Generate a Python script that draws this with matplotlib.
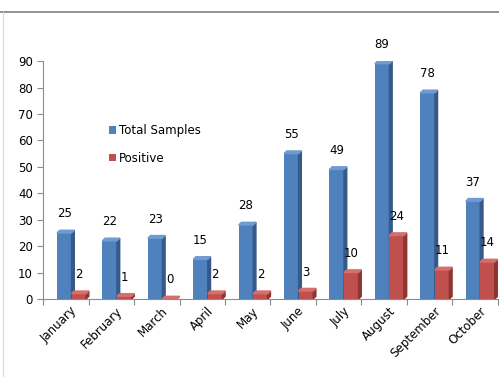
import matplotlib
matplotlib.use("Agg")
import matplotlib.pyplot as plt
from matplotlib.patches import Polygon
from matplotlib.lines import Line2D
import numpy as np

months = ["January", "February", "March", "April", "May", "June",
          "July", "August", "September", "October"]
total_samples = [25, 22, 23, 15, 28, 55, 49, 89, 78, 37]
positive = [2, 1, 0, 2, 2, 3, 10, 24, 11, 14]

blue, blue_dark, blue_top = "#4F81BD", "#35598A", "#6F9BD1"
red, red_dark, red_top = "#C0504D", "#8E3431", "#D46F6C"

fig = plt.figure(figsize=(4.99, 3.77), dpi=100)
ax = fig.add_axes([0.087, 0.207, 0.91, 0.631])

# outer frame lines of the chart area (top and left only visible)
fig.lines.append(Line2D([0.0, 1.0], [0.968, 0.968], transform=fig.transFigure,
                        color="#7f7f7f", lw=1.2))
fig.lines.append(Line2D([0.006, 0.006], [0.0, 0.968], transform=fig.transFigure,
                        color="#d9d9d9", lw=0.8))

x = np.arange(len(months)) + 0.12
w = 0.32
dx, dy = 0.06, 1.0  # depth of the 3D faces


def bar3d(xs, vals, face, side, top, label):
    bars = ax.bar(xs, vals, width=w, color=face, label=label, zorder=3)
    for b in bars:
        x0, x1, h = b.get_x(), b.get_x() + b.get_width(), b.get_height()
        ax.add_patch(Polygon([(x1, 0), (x1 + dx, dy), (x1 + dx, h + dy), (x1, h)],
                             closed=True, color=side, zorder=3))
        ax.add_patch(Polygon([(x0, h), (x0 + dx, h + dy), (x1 + dx, h + dy), (x1, h)],
                             closed=True, color=top, zorder=3))
    for xi, v in zip(xs, vals):
        ax.annotate(str(v), (xi, v), xytext=(0, 9), textcoords="offset points",
                    ha="center", va="bottom", fontsize=8.5, zorder=4)
    return bars


bar3d(x - w / 2, total_samples, blue, blue_dark, blue_top, "Total Samples")
bar3d(x + w / 2, positive, red, red_dark, red_top, "Positive")

ax.set_xlim(-0.5, len(months) - 0.5)
ax.set_ylim(0, 90)
ax.set_yticks(range(0, 91, 10))
ax.set_xticks(np.arange(-0.5, len(months), 1), minor=False)
ax.set_xticks(np.arange(len(months)) + 0.1, minor=True)
ax.set_xticklabels([""] * (len(months) + 1))
ax.set_xticklabels(months, minor=True, rotation=45, ha="right",
                   rotation_mode="anchor", fontsize=8.5)
ax.tick_params(axis="x", which="minor", length=0, pad=4)
ax.tick_params(axis="x", which="major", length=4, color="#8c8c8c")
ax.tick_params(axis="y", labelsize=8.5, length=4, color="#8c8c8c")

for s in ["top", "right"]:
    ax.spines[s].set_visible(False)
ax.spines["left"].set_color("#8c8c8c")
ax.spines["bottom"].set_color("#8c8c8c")

ax.legend(loc="upper left", bbox_to_anchor=(0.12, 0.78), frameon=False,
          fontsize=8.5, handlelength=0.6, handleheight=0.6, labelspacing=1.25,
          handletextpad=0.3)

plt.savefig("out.png", dpi=100)
plt.close()
